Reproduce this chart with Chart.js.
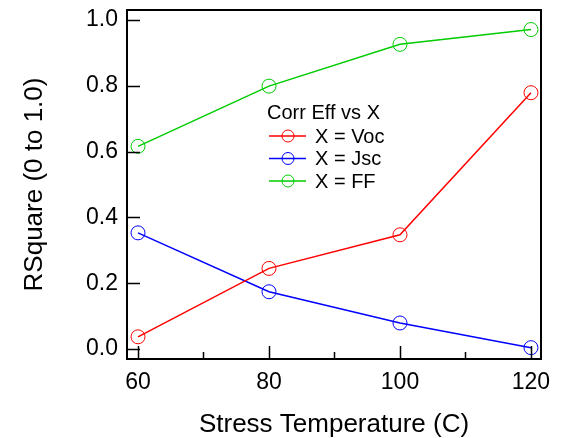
<!DOCTYPE html>
<html>
<head>
<meta charset="utf-8">
<script src="https://cdn.jsdelivr.net/npm/chart.js@4.4.0/dist/chart.umd.min.js"></script>
<style>
  html, body { margin: 0; padding: 0; background: #fff; }
  #wrap { width: 561px; height: 438px; }
</style>
</head>
<body>
<div id="wrap"><canvas id="rsquare-chart" width="561" height="438"></canvas></div>
<script>
//Values
const temperatures = [60, 80, 100, 120];
const vocRSquare = [0.037, 0.245, 0.347, 0.779];
const jscRSquare = [0.353, 0.174, 0.079, 0.004];
const ffRSquare = [0.616, 0.799, 0.926, 0.971];
const seriesLabels = ['X = Voc', 'X = Jsc', 'X = FF'];
const seriesColors = ['#ff0000', '#0000ff', '#00cc00'];
const xTickValues = [60, 80, 100, 120];
const xMinorTickValues = [70, 90, 110];
const yTickValues = [0, 0.2, 0.4, 0.6, 0.8, 1.0];
const legendTitle = 'Corr Eff vs X';

const fontFamily = '"Liberation Sans", Arial, Helvetica, sans-serif';

function toPoints(values){
    return temperatures.map((t, i) => ({x: t, y: values[i]}));
}

function makeDataset(label, values, color){
    return {
        label: label,
        data: toPoints(values),
        borderColor: color,
        backgroundColor: 'rgba(0,0,0,0)',
        borderWidth: 1.5,
        pointRadius: 7,
        pointBorderWidth: 1,
        pointBorderColor: color,
        pointBackgroundColor: 'rgba(0,0,0,0)',
        tension: 0
    };
}

//Draws the box round the plot and the inward tick marks
const axisFrame = {
    id: 'axisFrame',
    afterDraw(chart){
        const {ctx, chartArea: a, scales: {x, y}} = chart;
        ctx.save();
        ctx.strokeStyle = '#000';
        ctx.lineWidth = 1.5;
        ctx.beginPath();
        xTickValues.forEach((v) => {
            const px = Math.round(x.getPixelForValue(v)) + 0.5;
            ctx.moveTo(px, a.bottom);
            ctx.lineTo(px, a.bottom - 13);
        });
        xMinorTickValues.forEach((v) => {
            const px = Math.round(x.getPixelForValue(v)) + 0.5;
            ctx.moveTo(px, a.bottom);
            ctx.lineTo(px, a.bottom - 7);
        });
        yTickValues.forEach((v) => {
            const py = Math.round(y.getPixelForValue(v)) + 0.5;
            ctx.moveTo(a.left, py);
            ctx.lineTo(a.left + 13, py);
        });
        ctx.stroke();
        ctx.lineWidth = 2;
        ctx.strokeRect(a.left, a.top, a.right - a.left, a.bottom - a.top);
        ctx.restore();
    }
};

//Legend without a box, with line-circle-line symbols
const innerLegend = {
    id: 'innerLegend',
    afterDraw(chart){
        const ctx = chart.ctx;
        ctx.save();
        ctx.font = '20px ' + fontFamily;
        ctx.fillStyle = '#000';
        ctx.textBaseline = 'alphabetic';
        ctx.fillText(legendTitle, 267, 119);
        chart.data.datasets.forEach((ds, i) => {
            const cy = 136 + i * 22.5;
            ctx.strokeStyle = ds.borderColor;
            ctx.lineWidth = 1.5;
            ctx.beginPath();
            ctx.moveTo(269, cy);
            ctx.lineTo(306, cy);
            ctx.stroke();
            ctx.lineWidth = 1;
            ctx.beginPath();
            ctx.arc(288, cy, 6, 0, Math.PI * 2);
            ctx.stroke();
            ctx.fillStyle = '#000';
            ctx.textBaseline = 'middle';
            ctx.fillText(ds.label, 315, cy + 1);
        });
        ctx.restore();
    }
};

function clearScalePadding(scale){
    scale.paddingTop = 0;
    scale.paddingBottom = 0;
    scale.paddingLeft = 0;
    scale.paddingRight = 0;
}

const rsquareChart = new Chart('rsquare-chart', {
    type: 'line',
    data: {
        datasets: [
            makeDataset(seriesLabels[0], vocRSquare, seriesColors[0]),
            makeDataset(seriesLabels[1], jscRSquare, seriesColors[1]),
            makeDataset(seriesLabels[2], ffRSquare, seriesColors[2])
        ]
    },
    options: {
        responsive: false,
        animation: false,
        devicePixelRatio: 1,
        layout: {
            padding: {left: 0, right: 20, top: 10, bottom: 0}
        },
        plugins: {
            legend: {display: false},
            tooltip: {enabled: false}
        },
        scales: {
            x: {
                type: 'linear',
                min: 58.32,
                max: 121.53,
                grid: {display: false, drawTicks: false},
                border: {display: false},
                afterBuildTicks: (scale) => {
                    scale.ticks = xTickValues.map((v) => ({value: v}));
                },
                afterFit: (scale) => {
                    scale.height = 79;
                    clearScalePadding(scale);
                },
                ticks: {
                    autoSkip: false,
                    maxRotation: 0,
                    padding: 10,
                    color: '#000',
                    font: {family: fontFamily, size: 23},
                    callback: (value) => String(value)
                },
                title: {
                    display: true,
                    text: 'Stress Temperature (C)',
                    color: '#000',
                    font: {family: fontFamily, size: 26, lineHeight: 1},
                    padding: {top: 0, bottom: 0}
                }
            },
            y: {
                type: 'linear',
                min: -0.0304,
                max: 1.0304,
                grid: {display: false, drawTicks: false},
                border: {display: false},
                afterBuildTicks: (scale) => {
                    scale.ticks = yTickValues.map((v) => ({value: v}));
                },
                afterFit: (scale) => {
                    scale.width = 127;
                    clearScalePadding(scale);
                },
                ticks: {
                    padding: 9,
                    color: '#000',
                    font: {family: fontFamily, size: 23},
                    callback: (value) => Number(value).toFixed(1)
                },
                title: {
                    display: true,
                    text: 'RSquare (0 to 1.0)',
                    color: '#000',
                    font: {family: fontFamily, size: 26, lineHeight: 1.2},
                    padding: {top: 19, bottom: 0}
                }
            }
        }
    },
    plugins: [axisFrame, innerLegend]
});
</script>
</body>
</html>
